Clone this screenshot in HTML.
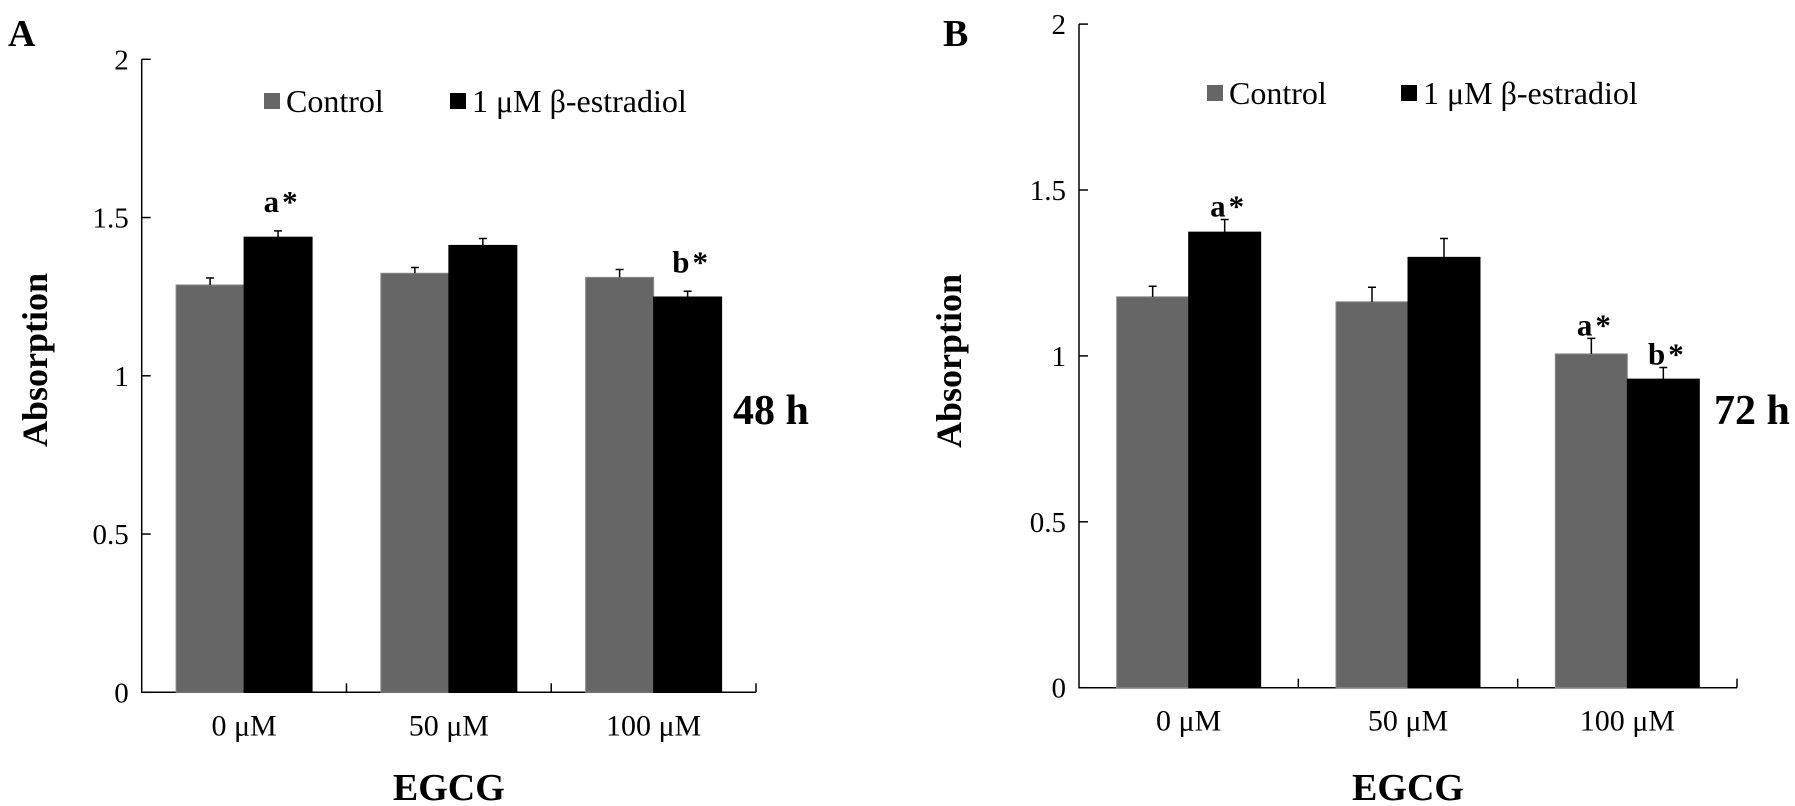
<!DOCTYPE html>
<html><head><meta charset="utf-8">
<style>
html,body{margin:0;padding:0;background:#fff;}
svg{display:block;font-family:"Liberation Serif",serif;}
</style></head>
<body>
<svg id="fig" width="1795" height="806" viewBox="0 0 1795 806"></svg>
<script>
const categories = ["0 μM", "50 μM", "100 μM"];
const seriesNames = ["Control", "1 μM β-estradiol"];
const yTicks = [0, 0.5, 1, 1.5, 2];
const yTickLabels = ["0", "0.5", "1", "1.5", "2"];
const a48Control = [1.287, 1.324, 1.311];
const a48Estradiol = [1.438, 1.412, 1.249];
const a48ControlErr = [0.022, 0.018, 0.025];
const a48EstradiolErr = [0.020, 0.022, 0.018];
const b72Control = [1.178, 1.163, 1.006];
const b72Estradiol = [1.373, 1.297, 0.930];
const b72ControlErr = [0.032, 0.044, 0.047];
const b72EstradiolErr = [0.038, 0.057, 0.035];
const a48Marks = ["", "a*", "", "", "", "b*"];
const b72Marks = ["", "a*", "", "", "a*", "b*"];

const NS = "http://www.w3.org/2000/svg";
const svg = document.getElementById("fig");
function mk(tag, attrs, parent) {
  const e = document.createElementNS(NS, tag);
  for (const k in attrs) e.setAttribute(k, attrs[k]);
  (parent || svg).appendChild(e);
  return e;
}
function txt(s, attrs, parent) { const t = mk("text", attrs, parent); t.textContent = s; return t; }

function panel(cfg) {
  const g = mk("g", {});
  
  
  const y = v => cfg.y0 - v * cfg.unit;
  const catW = (cfg.xEnd - cfg.x0) / categories.length;
  const cx = i => cfg.x0 + catW * (i + 0.5);
  const ax = mk("path", {d: `M${cfg.x0},${y(2)} V${cfg.y0} H${cfg.xEnd}`, stroke: "#000", "stroke-width": 1.5, fill: "none"}, g);
  
  
  yTicks.forEach((v, i) => {
    const tk = mk("line", {x1: cfg.x0, x2: cfg.x0 + 9, y1: y(v), y2: y(v), stroke: "#000", "stroke-width": 1.5}, g);
    
    
    const tl = txt(yTickLabels[i], {x: cfg.x0 - 13, y: y(v) + 10, "text-anchor": "end", "font-size": 29}, g);
    
    
  });
  for (let i = 1; i <= categories.length; i++) {
    const xt = cfg.x0 + catW * i;
    const tk = mk("line", {x1: xt, x2: xt, y1: cfg.y0, y2: cfg.y0 - 9, stroke: "#000", "stroke-width": 1.5}, g);
    
    
  }
  categories.forEach((c, i) => {
    const xl = txt(c, {x: cx(i), y: cfg.y0 + 43, "text-anchor": "middle", "font-size": 30}, g);
    
    
  });
  const series = [[cfg.ctrl, cfg.ctrlErr, "#666666"], [cfg.est, cfg.estErr, "#000000"]];
  series.forEach((s, si) => {
    s[0].forEach((v, i) => {
      const x = si === 0 ? cx(i) - cfg.bw : cx(i);
      const b = mk("rect", {x: x, y: y(v), width: cfg.bw, height: cfg.y0 - y(v), fill: s[2], stroke: si === 0 ? "#888" : "#000", "stroke-width": 1}, g);
      
      
      const xc = x + cfg.bw / 2, yt = y(v + s[1][i]);
      const eb = mk("path", {d: `M${xc},${y(v)} V${yt} M${xc - 4},${yt} H${xc + 4}`, stroke: "#000", "stroke-width": 1.5, fill: "none"}, g);
      
      
      const m = cfg.marks[i * 2 + si];
      if (m) {
        const t = txt(m, {x: xc + 4, y: yt - cfg.markGap, "text-anchor": "middle", "font-size": 31, "font-weight": "bold", "letter-spacing": 3}, g);
        
        
      }
    });
  });
  const lg = mk("g", {}, g);
  
  
  [[cfg.leg[0], "#666"], [cfg.leg[2], "#000"]].forEach((p, i) => {
    const r = mk("rect", {x: p[0], y: cfg.leg[1] - 8, width: 16, height: 16, fill: p[1]}, lg);
    
    
    const t = txt(seriesNames[i], {x: p[0] + 22, y: cfg.leg[1] + 11, "font-size": 32}, lg);
    
    
  });
  const yt = txt("Absorption", {x: 0, y: 0, transform: `translate(${cfg.ytX},${cfg.ytY}) rotate(-90)`, "text-anchor": "middle", "font-size": 36, "font-weight": "bold"}, g);
  
  
  const xt = txt("EGCG", {x: (cfg.x0 + cfg.xEnd) / 2, y: 800, "text-anchor": "middle", "font-size": 38, "font-weight": "bold"}, g);
  
  
  const tl = txt(cfg.time, {x: cfg.timeX, y: cfg.timeY, "font-size": 42, "font-weight": "bold"}, g);
  
  
  const pl = txt(cfg.letter, {x: cfg.letterX, y: 46, "font-size": 38, "font-weight": "bold"}, g);
  
  
}

panel({id: "a", x0: 141.7, xEnd: 756, y0: 692.3, unit: 316.5, bw: 68,
  ctrl: a48Control, est: a48Estradiol, ctrlErr: a48ControlErr, estErr: a48EstradiolErr,
  marks: a48Marks, markGap: 19, leg: [264, 101, 450], ytX: 47, ytY: 360,
  time: "48 h", timeX: 733, timeY: 424, letter: "A", letterX: 8});
panel({id: "b", x0: 1079, xEnd: 1737, y0: 687.7, unit: 331.8, bw: 72,
  ctrl: b72Control, est: b72Estradiol, ctrlErr: b72ControlErr, estErr: b72EstradiolErr,
  marks: b72Marks, markGap: 3, leg: [1207, 93, 1401], ytX: 961, ytY: 361,
  time: "72 h", timeX: 1714, timeY: 424, letter: "B", letterX: 943});
</script>
</body></html>
